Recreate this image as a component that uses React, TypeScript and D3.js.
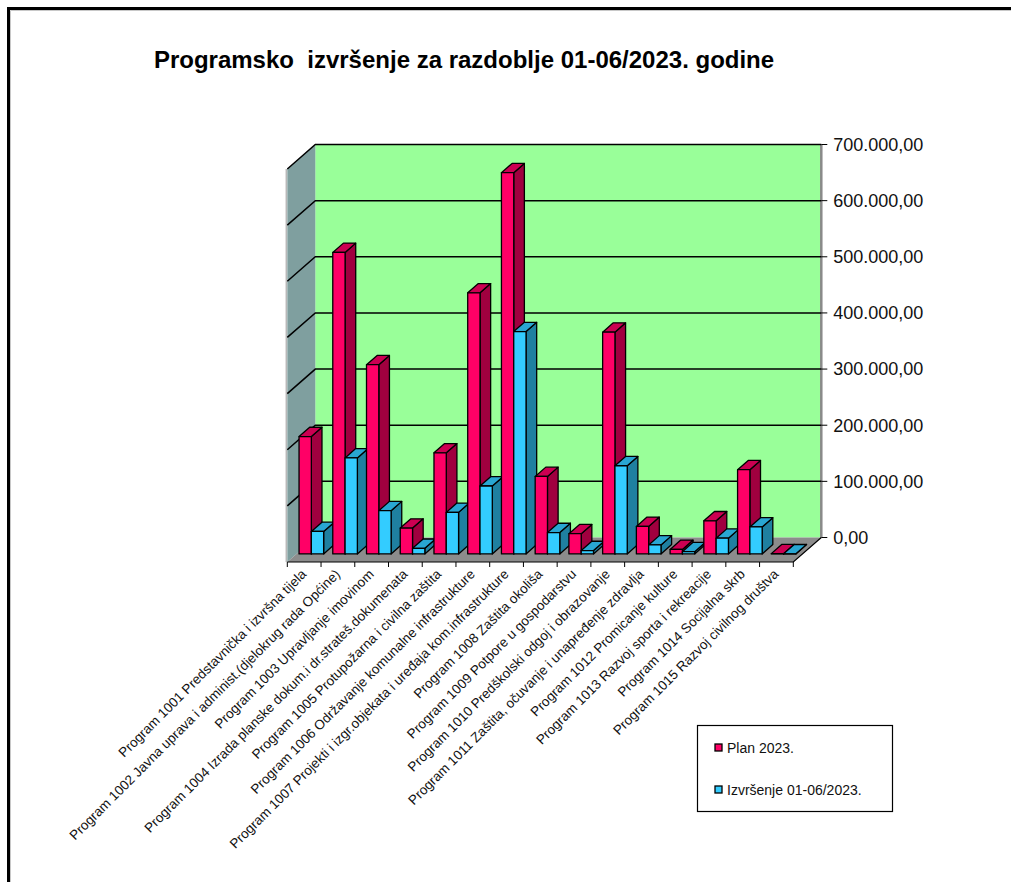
import React, { useEffect, useRef } from 'react'
import * as d3 from 'd3'

const categories = [
	'Program 1001 Predstavnička i izvršna tijela',
	'Program 1002 Javna uprava i administ.(djelokrug rada Općine)',
	'Program 1003 Upravljanje imovinom',
	'Program 1004 Izrada planske dokum.i dr.strateš.dokumenata',
	'Program 1005 Protupožarna i civilna zaštita',
	'Program 1006 Održavanje komunalne infrastrukture',
	'Program 1007 Projekti i izgr.objekata i uređaja kom.infrastrukture',
	'Program 1008 Zaštita okoliša',
	'Program 1009 Potpore u gospodarstvu',
	'Program 1010 Predškolski odgoj i obrazovanje',
	'Program 1011 Zaštita, očuvanje i unapređenje zdravlja',
	'Program 1012 Promicanje kulture',
	'Program 1013 Razvoj sporta i rekreacije',
	'Program 1014 Socijalna skrb',
	'Program 1015 Razvoj civilnog društva'
]

const plan2023 = [
	209000, 537000, 337000, 46000, 180000, 465000, 679000, 138000, 36000,
	395000, 49000, 8000, 59000, 150000, 500
]

const izvrsenje = [
	40000, 171000, 77000, 10000, 74000, 121000, 396000, 38000, 6000, 157000,
	16000, 4000, 28000, 48000, 200
]

const yTicks = [0, 100000, 200000, 300000, 400000, 500000, 600000, 700000]

const seriesNames = ['Plan 2023.', 'Izvršenje 01-06/2023.']

const title = 'Programsko  izvršenje za razdoblje 01-06/2023. godine'

const App = () => {
	const ref = useRef<SVGSVGElement>(null)

	const width = 1011
	const height = 882

	useEffect(() => {
		if (!ref.current) return
		const svg = d3.select(ref.current)
		svg.selectAll('*').remove()

		const font = 'Liberation Sans, Arial, sans-serif'

		// oblique 3D geometry
		const x0 = 287.3
		const x1 = 793.3
		const floorY = 562
		const depthX = 28
		const depthY = -24.5

		const xScale = d3
			.scaleBand()
			.domain(categories.map((_, i) => String(i)))
			.range([x0, x1])
			.paddingInner(0)
			.paddingOuter(0)

		const hScale = d3.scaleLinear().domain([0, 700000]).range([0, 393])

		const proj = (x: number, v: number, z: number): [number, number] => [
			x + z * depthX,
			floorY - hScale(v) + z * depthY
		]

		const poly = (pts: [number, number][]) =>
			'M' + pts.map(p => p.join(',')).join('L') + 'Z'

		// outer frame
		svg
			.append('path')
			.attr('d', `M8.5,${height} L8.5,8.5 L${width},8.5`)
			.attr('fill', 'none')
			.attr('stroke', '#000')
			.attr('stroke-width', 3)
		svg
			.append('path')
			.attr('d', `M10.5,${height} L10.5,10.5 L${width},10.5`)
			.attr('fill', 'none')
			.attr('stroke', '#c8c8c8')
			.attr('stroke-width', 1)

		// title
		svg
			.append('text')
			.attr('x', 464)
			.attr('y', 68)
			.attr('text-anchor', 'middle')
			.attr('font-family', font)
			.attr('font-weight', 'bold')
			.attr('font-size', 24)
			.attr('xml:space', 'preserve')
			.style('white-space', 'pre')
			.text(title)

		const vMax = 700000

		// back wall
		svg
			.append('path')
			.attr(
				'd',
				poly([proj(x0, 0, 1), proj(x0, vMax, 1), proj(x1, vMax, 1), proj(x1, 0, 1)])
			)
			.attr('fill', '#99ff99')

		// left side wall
		svg
			.append('path')
			.attr(
				'd',
				poly([proj(x0, 0, 0), proj(x0, vMax, 0), proj(x0, vMax, 1), proj(x0, 0, 1)])
			)
			.attr('fill', '#7f9f9f')

		// floor
		svg
			.append('path')
			.attr(
				'd',
				poly([proj(x0, 0, 0), proj(x1, 0, 0), proj(x1, 0, 1), proj(x0, 0, 1)])
			)
			.attr('fill', '#8c8c8c')

		// wall edges
		svg
			.append('line')
			.attr('x1', proj(x0, 0, 0)[0] - 1)
			.attr('y1', proj(x0, 0, 0)[1])
			.attr('x2', proj(x0, vMax, 0)[0] - 1)
			.attr('y2', proj(x0, vMax, 0)[1])
			.attr('stroke', '#b8b8b8')
			.attr('stroke-width', 1.5)
		svg
			.append('line')
			.attr('x1', proj(x1, 0, 1)[0])
			.attr('y1', proj(x1, 0, 1)[1])
			.attr('x2', proj(x1, vMax, 1)[0])
			.attr('y2', proj(x1, vMax, 1)[1])
			.attr('stroke', '#8a8a8a')
			.attr('stroke-width', 2.5)

		// gridlines on side wall and back wall
		const grid = svg.append('g').attr('class', 'grid')
		yTicks.forEach(t => {
			const a = proj(x0, t, 0)
			const b = proj(x0, t, 1)
			const c = proj(x1, t, 1)
			if (t > 0) {
				grid
					.append('path')
					.attr('d', `M${a.join(',')}L${b.join(',')}L${c.join(',')}`)
					.attr('fill', 'none')
					.attr('stroke', '#000')
					.attr('stroke-width', 1.5)
			}
			// right axis tick
			grid
				.append('line')
				.attr('x1', c[0])
				.attr('y1', c[1])
				.attr('x2', c[0] + 6)
				.attr('y2', c[1])
				.attr('stroke', '#000')
				.attr('stroke-width', 1)
		})

		// floor edges
		svg
			.append('path')
			.attr(
				'd',
				`M${proj(x0, 0, 0).join(',')}L${proj(x1, 0, 0).join(',')}L${proj(x1, 0, 1).join(',')}`
			)
			.attr('fill', 'none')
			.attr('stroke', '#000')
			.attr('stroke-width', 1.2)

		// category ticks
		d3.range(categories.length + 1).forEach(i => {
			const x = x0 + i * xScale.bandwidth()
			svg
				.append('line')
				.attr('x1', x)
				.attr('y1', floorY)
				.attr('x2', x)
				.attr('y2', floorY + 5)
				.attr('stroke', '#000')
				.attr('stroke-width', 1)
		})

		// y labels
		const locale = d3.formatLocale({
			decimal: ',',
			thousands: '.',
			grouping: [3],
			currency: ['', '']
		})
		const fmt = locale.format(',.2f')
		svg
			.append('g')
			.selectAll('text')
			.data(yTicks)
			.join('text')
			.attr('x', proj(x1, 0, 1)[0] + 12)
			.attr('y', d => proj(x1, d, 1)[1])
			.attr('dy', '0.35em')
			.attr('font-family', font)
			.attr('font-size', 18)
			.attr('fill', '#111')
			.text(d => fmt(d))

		// bars
		const colors = [
			{ front: '#ff0066', side: '#a0003f', top: '#cc0052' },
			{ front: '#33ccff', side: '#1f80a0', top: '#29a6d2' }
		]
		const zA = 0.33
		const zB = 0.71
		const barOffset = 2.5
		const barW = 12.3
		const bars = svg.append('g').attr('class', 'bars')
		categories.forEach((_, i) => {
			;[plan2023, izvrsenje].forEach((series, s) => {
				const v = series[i]
				const xl = (xScale(String(i)) as number) + barOffset + s * barW
				const xr = xl + barW
				const c = colors[s]
				const side = poly([proj(xr, 0, zA), proj(xr, 0, zB), proj(xr, v, zB), proj(xr, v, zA)])
				const top = poly([proj(xl, v, zA), proj(xr, v, zA), proj(xr, v, zB), proj(xl, v, zB)])
				const front = poly([proj(xl, 0, zA), proj(xr, 0, zA), proj(xr, v, zA), proj(xl, v, zA)])
				;[
					[side, c.side],
					[top, c.top],
					[front, c.front]
				].forEach(([d, fill]) => {
					bars
						.append('path')
						.attr('d', d)
						.attr('fill', fill)
						.attr('stroke', '#000')
						.attr('stroke-width', 1.3)
						.attr('stroke-linejoin', 'round')
				})
			})
		})

		// x labels
		svg
			.append('g')
			.selectAll('text')
			.data(categories)
			.join('text')
			.attr(
				'transform',
				(_, i) =>
					`translate(${(xScale(String(i)) as number) + xScale.bandwidth() / 2 + 3},${floorY + 13}) rotate(-45)`
			)
			.attr('text-anchor', 'end')
			.attr('font-family', font)
			.attr('font-size', 13.5)
			.attr('fill', '#111')
			.text(d => d)

		// legend
		const lg = svg.append('g').attr('class', 'legend')
		lg.append('rect')
			.attr('x', 697.5)
			.attr('y', 725.5)
			.attr('width', 195)
			.attr('height', 86)
			.attr('fill', '#fff')
			.attr('stroke', '#000')
			.attr('stroke-width', 1.2)
		seriesNames.forEach((name, i) => {
			const y = 748 + i * 42
			lg.append('rect')
				.attr('x', 715)
				.attr('y', y - 4)
				.attr('width', 7)
				.attr('height', 7)
				.attr('fill', colors[i].front)
				.attr('stroke', '#000')
				.attr('stroke-width', 1.3)
			lg.append('text')
				.attr('x', 727)
				.attr('y', y)
				.attr('dy', '0.35em')
				.attr('font-family', font)
				.attr('font-size', 14)
				.attr('fill', '#111')
				.text(name)
		})
	}, [])

	return (
		<svg
			ref={ref}
			width={width}
			height={height}
			style={{ position: 'absolute', left: 0, top: 0, background: '#fff' }}
		></svg>
	)
}

export default App
